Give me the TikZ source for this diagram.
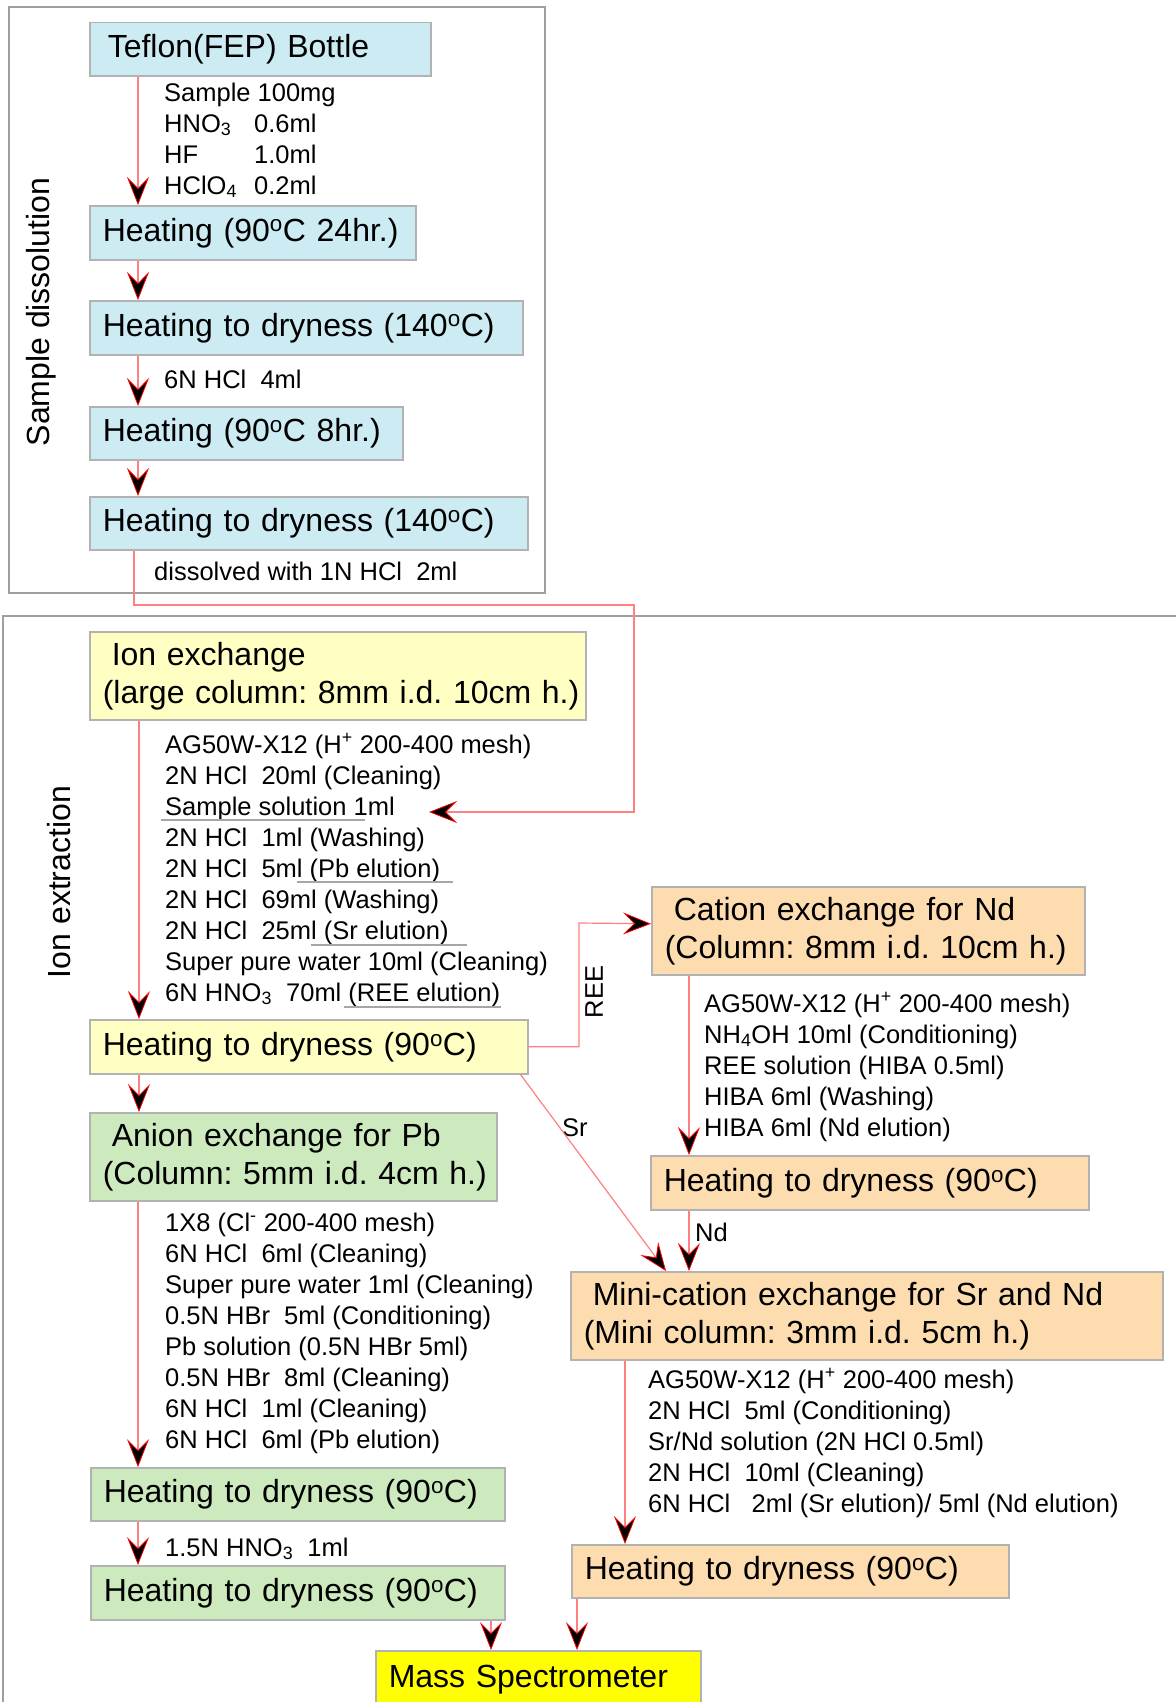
\documentclass[tikz,border=0pt]{standalone}
\usepackage{fontspec}
\setmainfont{Liberation Sans}
\usetikzlibrary{arrows.meta}
\definecolor{dissolblue}{RGB}{205,235,243}
\definecolor{ionyellow}{RGB}{255,255,196}
\definecolor{pbgreen}{RGB}{205,234,190}
\definecolor{ndorange}{RGB}{253,221,176}
\definecolor{massyellow}{RGB}{255,255,0}
\newcommand\stagefont{\frenchspacing\fontsize{32pt}{38pt}\selectfont}
\newcommand\notefont{\frenchspacing\fontsize{25.5pt}{31pt}\selectfont}
\tikzset{
  stage/.style={draw=gray!60, line width=1.5pt, anchor=north west, inner xsep=13pt, inner ysep=0pt, align=left, font=\stagefont},
  note/.style={anchor=base west, inner sep=0pt, font=\notefont},
  flow/.style={draw=red!50, line width=1.2pt, -{Stealth[length=28pt,width=22pt,inset=11pt,color=red,fill=black,line width=0.8pt]}},
  frame/.style={draw=gray!75, line width=2pt},
  underline/.style={draw=gray!70, line width=1.2pt}
}

\begin{document}
\begin{tikzpicture}[x=1pt,y=-1pt]
    \path[use as bounding box, fill=white] (0,0) rectangle (1175,1702);
    \draw[frame] (9,7) rectangle (545,593);
    \draw[frame] (1180,616) -| (3,1710);
    \node[rotate=90, font=\stagefont] (dissol) at (41,312) {Sample dissolution};
    \node[rotate=90, font=\stagefont] (ionext) at (59,882) {Ion extraction};

    \node[stage, fill=dissolblue, text width=315pt, minimum height=53pt] (bottle) at (89,22) {\hspace*{5pt}Teflon(FEP) Bottle};
    \node[stage, fill=dissolblue, text width=300pt, minimum height=54pt] (heat24) at (89,205) {Heating (90\textsuperscript{o}C 24hr.)};
    \node[stage, fill=dissolblue, text width=407pt, minimum height=54pt] (dry140a) at (89,300) {Heating to dryness (140\textsuperscript{o}C)};
    \node[stage, fill=dissolblue, text width=287pt, minimum height=53pt] (heat8) at (89,406) {Heating (90\textsuperscript{o}C 8hr.)};
    \node[stage, fill=dissolblue, text width=412pt, minimum height=53pt] (dry140b) at (89,496) {Heating to dryness (140\textsuperscript{o}C)};

    \node[stage, fill=ionyellow, text width=470pt, minimum height=88pt] (ionex) at (89,631) {\mbox{\hspace*{9pt}Ion exchange}\\\mbox{(large column: 8mm i.d. 10cm h.)}};
    \node[stage, fill=ionyellow, text width=412pt, minimum height=54pt] (dry90y) at (89,1019) {Heating to dryness (90\textsuperscript{o}C)};
    \node[stage, fill=pbgreen, text width=381pt, minimum height=88pt] (anion) at (89,1112) {\mbox{\hspace*{9pt}Anion exchange for Pb}\\\mbox{(Column: 5mm i.d. 4cm h.)}};
    \node[stage, fill=pbgreen, text width=388pt, minimum height=53pt] (dry90g1) at (90,1467) {Heating to dryness (90\textsuperscript{o}C)};
    \node[stage, fill=pbgreen, text width=388pt, minimum height=54pt] (dry90g2) at (90,1565) {Heating to dryness (90\textsuperscript{o}C)};
    \node[stage, fill=ndorange, text width=407pt, minimum height=88pt] (cation) at (651,886) {\mbox{\hspace*{9pt}Cation exchange for Nd}\\\mbox{(Column: 8mm i.d. 10cm h.)}};
    \node[stage, fill=ndorange, text width=412pt, minimum height=54pt] (dry90o1) at (650,1155) {Heating to dryness (90\textsuperscript{o}C)};
    \node[stage, fill=ndorange, text width=566pt, minimum height=88pt] (mini) at (570,1271) {\mbox{\hspace*{9pt}Mini-cation exchange for Sr and Nd}\\\mbox{(Mini column: 3mm i.d. 5cm h.)}};
    \node[stage, fill=ndorange, text width=411pt, minimum height=53pt] (dry90o2) at (571,1544) {Heating to dryness (90\textsuperscript{o}C)};
    \node[stage, fill=massyellow, text width=299pt, minimum height=58pt] (mass) at (375,1650) {Mass Spectrometer};

    \foreach \t [count=\i] in {Sample 100mg, {\makebox[90pt][l]{HNO\textsubscript{3}}0.6ml}, {\makebox[90pt][l]{HF}1.0ml}, {\makebox[90pt][l]{HClO\textsubscript{4}}0.2ml}}
        \node[note] (acid\i) at (164,{101+31*(\i-1)}) {\t};
    \node[note] (acidhcl) at (164,388) {6N HCl~~4ml};
    \node[note] (redis) at (154,580) {dissolved with 1N HCl~~2ml};

    \foreach \t [count=\i] in {{AG50W-X12 (H\textsuperscript{+} 200-400 mesh)}, {2N HCl~~20ml (Cleaning)}, {Sample solution 1ml}, {2N HCl~~1ml (Washing)}, {2N HCl~~5ml (Pb elution)}, {2N HCl~~69ml (Washing)}, {2N HCl~~25ml (Sr elution)}, {Super pure water 10ml (Cleaning)}, {6N HNO\textsubscript{3}~~70ml (REE elution)}}
        \node[note] (ion\i) at (165,{753+31*(\i-1)}) {\t};
    \draw[underline] ([shift={(-4,5)}]ion3.base west) -- ++(204,0);
    \draw[underline] ([shift={(132,5)}]ion5.base west) -- ++(156,0);
    \draw[underline] ([shift={(146,6)}]ion7.base west) -- ++(156,0);
    \draw[underline] ([shift={(179,6)}]ion9.base west) -- ++(157,0);

    \foreach \t [count=\i] in {{1X8 (Cl\textsuperscript{-} 200-400 mesh)}, {6N HCl~~6ml (Cleaning)}, {Super pure water 1ml (Cleaning)}, {0.5N HBr~~5ml (Conditioning)}, {Pb solution (0.5N HBr 5ml)}, {0.5N HBr~~8ml (Cleaning)}, {6N HCl~~1ml (Cleaning)}, {6N HCl~~6ml (Pb elution)}}
        \node[note] (pb\i) at (165,{1231+31*(\i-1)}) {\t};
    \node[note] (nitric) at (165,1556) {1.5N HNO\textsubscript{3}~~1ml};

    \foreach \t [count=\i] in {{AG50W-X12 (H\textsuperscript{+} 200-400 mesh)}, {NH\textsubscript{4}OH 10ml (Conditioning)}, {REE solution (HIBA 0.5ml)}, {HIBA 6ml (Washing)}, {HIBA 6ml (Nd elution)}}
        \node[note] (nd\i) at (704,{1012+31*(\i-1)}) {\t};
    \foreach \t [count=\i] in {{AG50W-X12 (H\textsuperscript{+} 200-400 mesh)}, {2N HCl~~5ml (Conditioning)}, {Sr/Nd solution (2N HCl 0.5ml)}, {2N HCl~~10ml (Cleaning)}, {6N HCl~~~2ml (Sr elution)/ 5ml (Nd elution)}}
        \node[note] (srnd\i) at (648,{1388+31*(\i-1)}) {\t};

    \node[rotate=90, font=\notefont] (reelab) at (594,992) {REE};
    \node[note] (srlab) at (562,1136) {Sr};
    \node[note] (ndlab) at (695,1241) {Nd};
    \coordinate (smp) at (429,812);

    \draw[flow] ([xshift=49pt]bottle.south west) -- ([xshift=49pt]heat24.north west);
    \draw[flow] ([xshift=49pt]heat24.south west) -- ([xshift=49pt]dry140a.north west);
    \draw[flow] ([xshift=49pt]dry140a.south west) -- ([xshift=49pt]heat8.north west);
    \draw[flow] ([xshift=49pt]heat8.south west) -- ([xshift=49pt]dry140b.north west);
    \draw[flow] ([xshift=45pt]dry140b.south west) |- (634,605) |- (smp);
    \draw[flow] ([xshift=50pt]ionex.south west) -- ([xshift=50pt]dry90y.north west);
    \draw[flow] ([xshift=50pt]dry90y.south west) -- ([xshift=50pt]anion.north west);
    \draw[flow] ([xshift=49pt]anion.south west) -- ([xshift=48pt]dry90g1.north west);
    \draw[flow] ([xshift=48pt]dry90g1.south west) -- ([xshift=48pt]dry90g2.north west);
    \draw[flow] (dry90y.east) -| (579,923) -- ([yshift=7pt]cation.west);
    \draw[flow] ([xshift=-8pt]dry90y.south east) -- ([xshift=96pt]mini.north west);
    \draw[flow] ([xshift=38pt]cation.south west) -- ([xshift=39pt]dry90o1.north west);
    \draw[flow] ([xshift=39pt]dry90o1.south west) -- ([xshift=119pt]mini.north west);
    \draw[flow] ([xshift=55pt]mini.south west) -- ([xshift=54pt]dry90o2.north west);
    \draw[flow] ([xshift=401pt]dry90g2.south west) -- ([xshift=116pt]mass.north west);
    \draw[flow] ([xshift=6pt]dry90o2.south west) -- ([xshift=202pt]mass.north west);
\end{tikzpicture}
\end{document}
